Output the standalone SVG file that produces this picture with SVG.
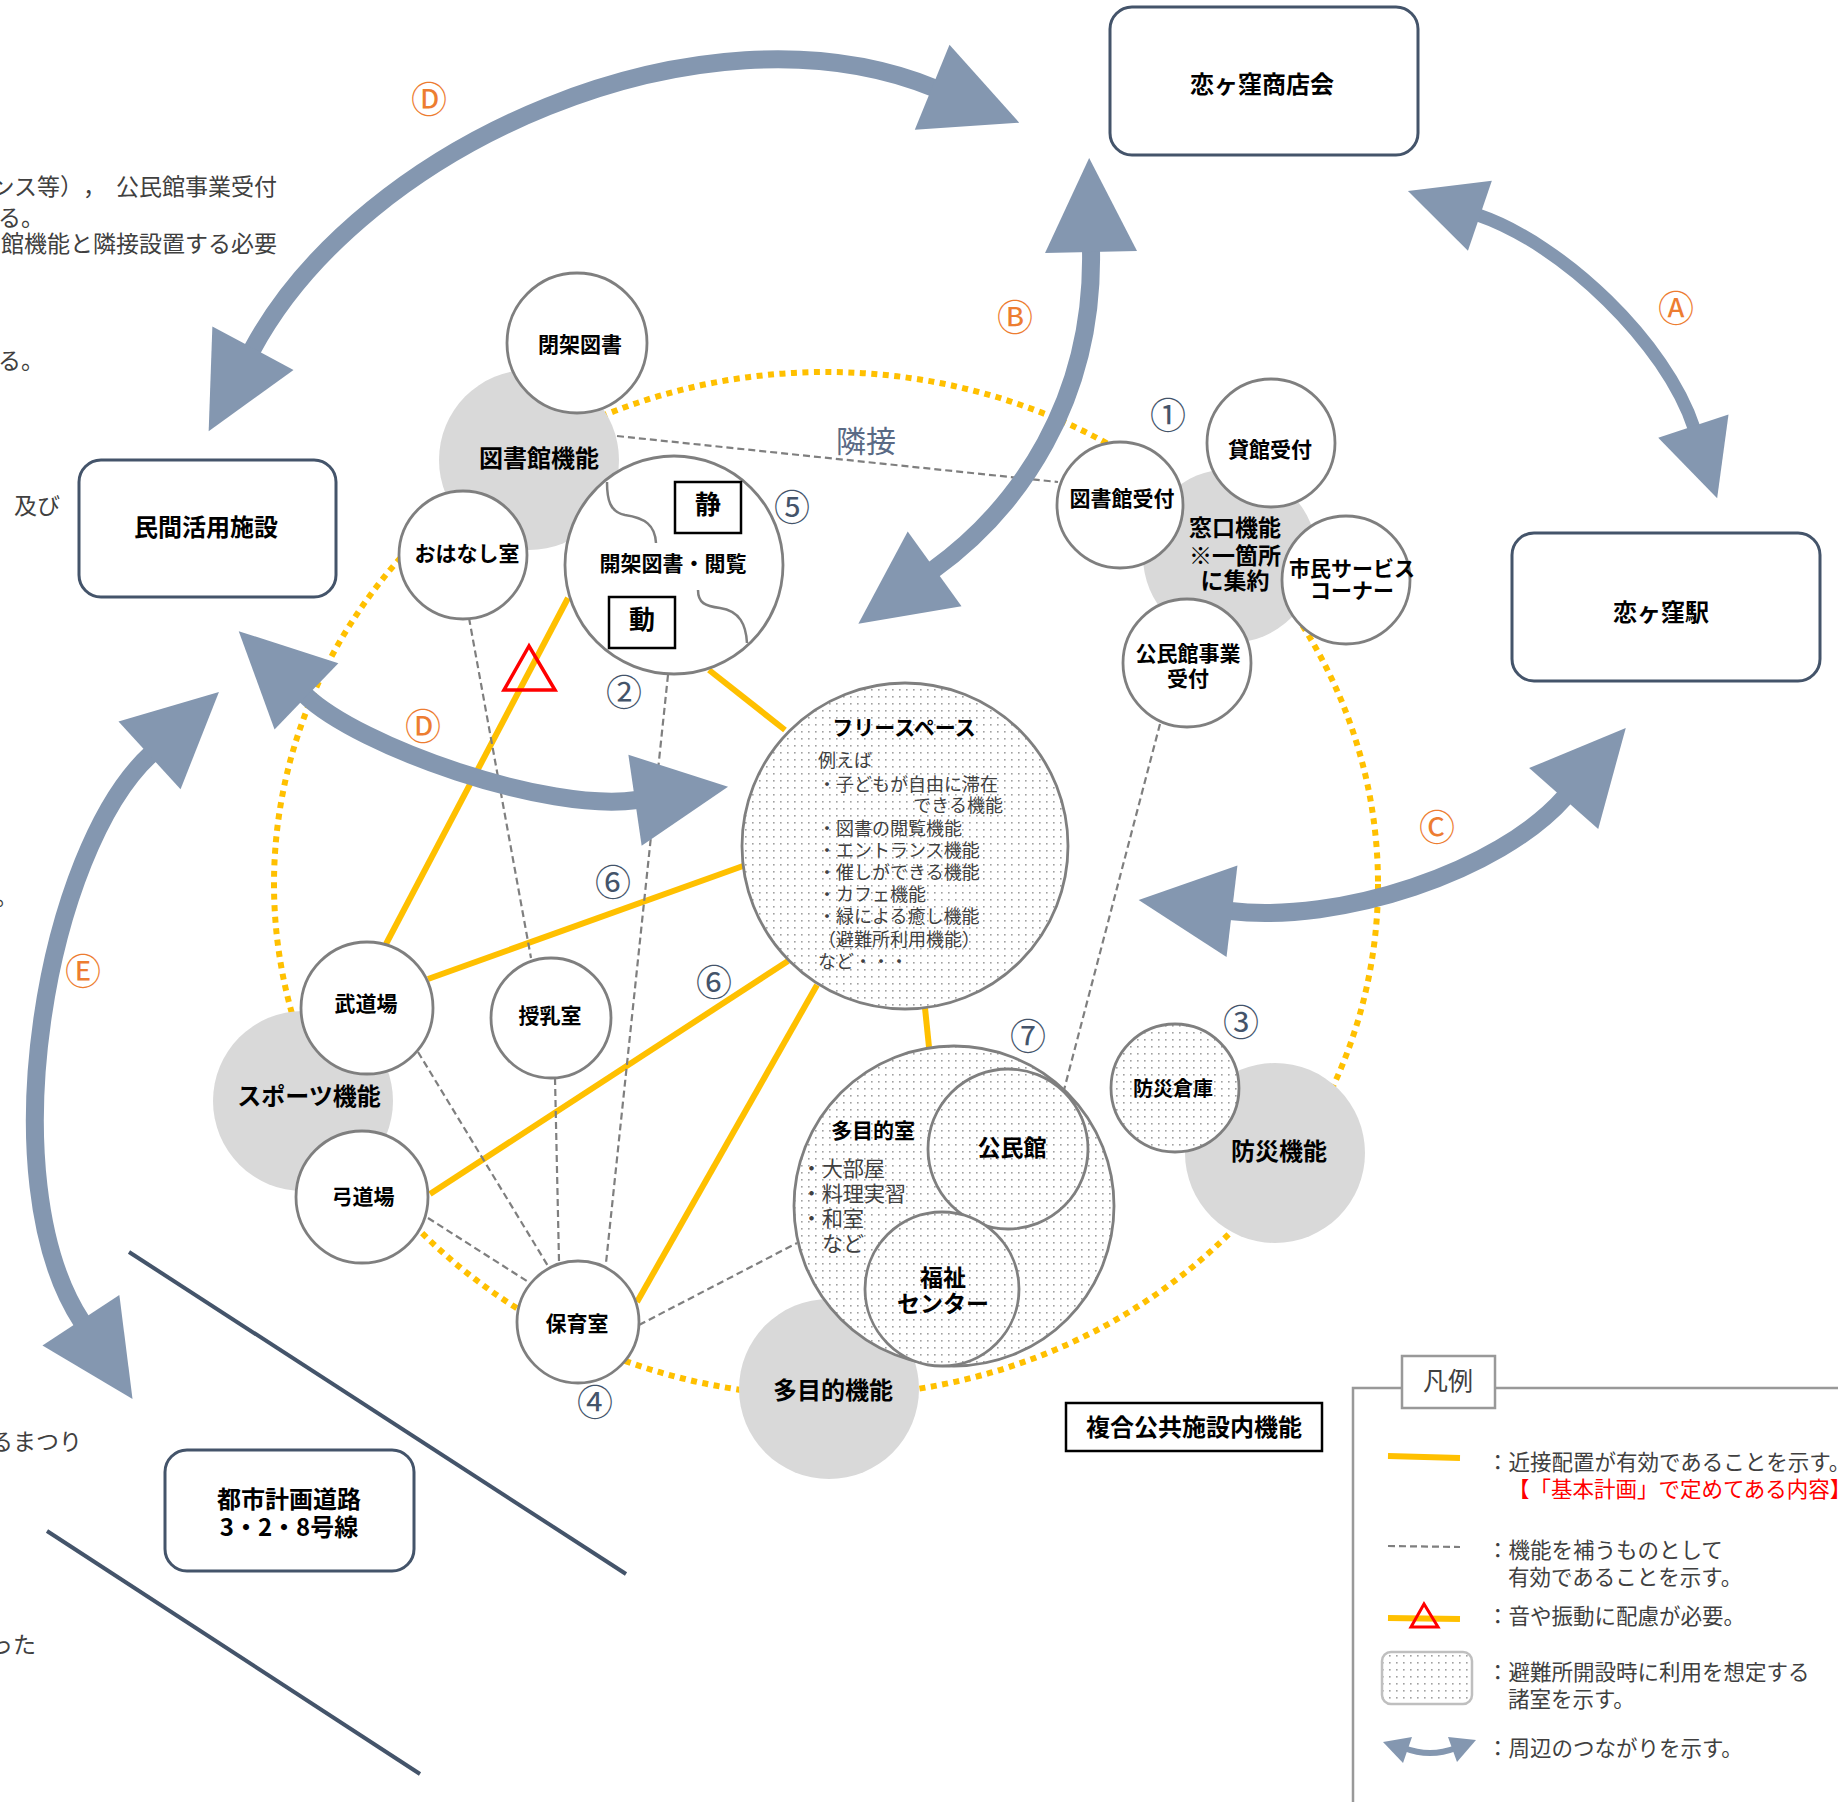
<svg xmlns="http://www.w3.org/2000/svg" width="1838" height="1802" viewBox="0 0 1838 1802">
<style>
text { font-family: 'Noto Sans CJK JP', 'Noto Sans CJK SC', sans-serif; text-spacing-trim: space-all; }
.b { font-weight: 700; fill: #000; text-anchor: middle; }
.f21 { font-size: 21px; }
.f23 { font-size: 23px; }
.f24 { font-size: 24px; }
.desc { font-size: 18px; fill: #404040; }
.desc2 { font-size: 21px; fill: #404040; }
.body { font-size: 23px; fill: #404040; }
.leg { font-size: 21.5px; fill: #404040; }
.num { font-size: 36px; fill: #44546A; text-anchor: middle; }
.let { font-size: 36px; fill: #ED7D31; text-anchor: middle; }
.grp { fill: #D9D9D9; stroke: none; }
.node { fill: #fff; stroke: #7F7F7F; stroke-width: 2.8; }
.dot { fill: url(#dots); stroke: #7F7F7F; stroke-width: 2.8; }
.box { fill: #fff; stroke: #44546A; stroke-width: 3; }
.yl { stroke: #FFC000; stroke-width: 6; fill: none; }
.dl { stroke: #7F7F7F; stroke-width: 2.2; stroke-dasharray: 7 4; fill: none; }
.arr { stroke: #8497B0; stroke-width: 18; fill: none; marker-start: url(#ah); marker-end: url(#ah); }
.arrs { stroke: #8497B0; stroke-width: 13; fill: none; marker-start: url(#ahs); marker-end: url(#ahs); }
.road { stroke: #44546A; stroke-width: 4; }
</style>
<defs>
<pattern id="dots" width="7" height="7" patternUnits="userSpaceOnUse">
<rect width="7" height="7" fill="#fff"/>
<rect x="3" y="3" width="1.6" height="1.6" fill="#A0A0A0"/>
</pattern>
<marker id="ah" markerUnits="userSpaceOnUse" markerWidth="100" markerHeight="100" refX="0" refY="0" orient="auto-start-reverse" overflow="visible">
<path d="M-2,-46 L92,0 L-2,46 Z" fill="#8497B0"/>
</marker>
<marker id="ahs" markerUnits="userSpaceOnUse" markerWidth="80" markerHeight="80" refX="0" refY="0" orient="auto-start-reverse" overflow="visible">
<path d="M-2,-37 L74,0 L-2,37 Z" fill="#8497B0"/>
</marker>
</defs>

<rect width="1838" height="1802" fill="#fff"/>

<!-- cut-off body text on the left -->
<g id="bodytext">
<text class="body" x="106" y="195" text-anchor="end">ンス等），</text>
<text class="body" x="277" y="195" text-anchor="end">公民館事業受付</text>
<text class="body" x="-2" y="226">る。</text>
<text class="body" x="277" y="252" text-anchor="end">館機能と隣接設置する必要</text>
<text class="body" x="-2" y="369">る。</text>
<text class="body" x="14" y="514">及び</text>
<text class="body" x="-5" y="905">。</text>
<text class="body" x="82" y="1450" text-anchor="end">るまつり</text>
<text class="body" x="36" y="1653" text-anchor="end">った</text>
</g>

<!-- facility boundary (dotted ellipse) -->
<ellipse id="boundary" cx="826" cy="884" rx="552" ry="512" fill="none" stroke="#FFC000" stroke-width="6" stroke-dasharray="6 5.5"/>

<!-- roads -->
<g id="road">
<line class="road" x1="129" y1="1252" x2="626" y2="1574"/>
<line class="road" x1="47" y1="1531" x2="420" y2="1774"/>
</g>

<!-- connectors -->
<g id="connectors">
<line class="yl" x1="568" y1="598" x2="386" y2="944"/>
<line class="yl" x1="709" y1="670" x2="785" y2="730"/>
<line class="yl" x1="428" y1="979" x2="743" y2="866"/>
<line class="yl" x1="430" y1="1194" x2="788" y2="961"/>
<line class="yl" x1="637" y1="1302" x2="817" y2="985"/>
<line class="yl" x1="925" y1="1008" x2="929" y2="1047"/>
<line class="dl" x1="617" y1="436" x2="1058" y2="482"/>
<line class="dl" x1="469" y1="618" x2="531" y2="958"/>
<line class="dl" x1="668" y1="675" x2="606" y2="1263"/>
<line class="dl" x1="418" y1="1052" x2="548" y2="1266"/>
<line class="dl" x1="555" y1="1078" x2="559" y2="1261"/>
<line class="dl" x1="428" y1="1218" x2="530" y2="1283"/>
<line class="dl" x1="639" y1="1325" x2="797" y2="1243"/>
<line class="dl" x1="1160" y1="724" x2="1064" y2="1090"/>
<polygon points="529,646 504,690 555,690" fill="none" stroke="#FF0000" stroke-width="3.5"/>
<text x="866" y="452" font-size="30" fill="#5A6A85" text-anchor="middle">隣接</text>
</g>

<!-- function groups -->
<g id="grp-library"><circle class="grp" cx="529" cy="460" r="90"/><text class="b f24" x="539" y="467">図書館機能</text></g>
<g id="grp-window"><circle class="grp" cx="1230" cy="556" r="87"/></g>
<g id="grp-sports"><circle class="grp" cx="303" cy="1101" r="90"/><text class="b f24" x="309" y="1105">スポーツ機能</text></g>
<g id="grp-disaster"><circle class="grp" cx="1275" cy="1153" r="90"/><text class="b f24" x="1279" y="1160">防災機能</text></g>
<g id="grp-multi"><circle class="grp" cx="829" cy="1389" r="90"/><text class="b f24" x="833" y="1399">多目的機能</text></g>

<!-- nodes -->
<g id="n-closed"><circle class="node" cx="577" cy="343" r="70"/><text class="b f21" x="580" y="352">閉架図書</text></g>
<g id="n-ohanashi"><circle class="node" cx="463" cy="555" r="64"/><text class="b f21" x="467" y="561">おはなし室</text></g>
<g id="n-open">
<circle class="node" cx="674" cy="565" r="109"/>
<path d="M607,482 C607,500 610,512 625,515 C645,518 655,525 656,543" fill="none" stroke="#7F7F7F" stroke-width="2.5"/>
<path d="M698,590 C698,603 705,606 720,608 C740,611 746,625 747,643" fill="none" stroke="#7F7F7F" stroke-width="2.5"/>
<text class="b f21" x="673" y="571">開架図書・閲覧</text>
<rect x="675" y="482" width="66" height="51" fill="#fff" stroke="#000" stroke-width="2.5"/>
<text class="b" x="708" y="514" font-size="26">静</text>
<rect x="609" y="597" width="66" height="51" fill="#fff" stroke="#000" stroke-width="2.5"/>
<text class="b" x="642" y="629" font-size="26">動</text>
</g>
<g id="n-window-text">
<text class="b f23" x="1235" y="536">窓口機能</text>
<text class="b f23" x="1235" y="564">※一箇所</text>
<text class="b f23" x="1235" y="589">に集約</text>
</g>
<g id="n-libdesk"><circle class="node" cx="1120" cy="505" r="63"/><text class="b f21" x="1122" y="506">図書館受付</text></g>
<g id="n-rental"><circle class="node" cx="1271" cy="443" r="64"/><text class="b f21" x="1270" y="457">貸館受付</text></g>
<g id="n-citizen"><circle class="node" cx="1346" cy="580" r="64"/><text class="b f21" x="1352" y="576">市民サービス</text><text class="b f21" x="1352" y="598">コーナー</text></g>
<g id="n-kominkan-desk"><circle class="node" cx="1187" cy="663" r="64"/><text class="b f21" x="1188" y="661">公民館事業</text><text class="b f21" x="1188" y="686">受付</text></g>

<g id="n-free">
<circle class="dot" cx="905" cy="846" r="163"/>
<text class="b f21" x="904" y="735">フリースペース</text>
<text class="desc" x="818" y="767">例えば</text>
<text class="desc" x="818" y="791">・子どもが自由に滞在</text>
<text class="desc" x="1003" y="812" text-anchor="end">できる機能</text>
<text class="desc" x="818" y="835">・図書の閲覧機能</text>
<text class="desc" x="818" y="857">・エントランス機能</text>
<text class="desc" x="818" y="879">・催しができる機能</text>
<text class="desc" x="818" y="901">・カフェ機能</text>
<text class="desc" x="818" y="923">・緑による癒し機能</text>
<text class="desc" x="818" y="946">（避難所利用機能）</text>
<text class="desc" x="818" y="968">など・・・</text>
</g>

<g id="n-budo"><circle class="node" cx="367" cy="1008" r="66"/><text class="b f21" x="366" y="1011">武道場</text></g>
<g id="n-nursing"><circle class="node" cx="551" cy="1018" r="60"/><text class="b f21" x="550" y="1023">授乳室</text></g>
<g id="n-kyudo"><circle class="node" cx="362" cy="1197" r="66"/><text class="b f21" x="363" y="1204">弓道場</text></g>
<g id="n-nursery"><circle class="node" cx="578" cy="1322" r="61"/><text class="b f21" x="577" y="1331">保育室</text></g>

<g id="n-multi">
<circle class="dot" cx="954" cy="1206" r="160"/>
<text class="b f21" x="873" y="1138">多目的室</text>
<text class="desc2" x="801" y="1176">・大部屋</text>
<text class="desc2" x="801" y="1201">・料理実習</text>
<text class="desc2" x="801" y="1226">・和室</text>
<text class="desc2" x="822" y="1251">など</text>
</g>
<g id="n-kominkan"><circle class="dot" cx="1008" cy="1149" r="80"/><text class="b f23" x="1012" y="1156">公民館</text></g>
<g id="n-welfare"><circle class="dot" cx="942" cy="1289" r="77"/><text class="b f23" x="943" y="1286">福祉</text><text class="b f23" x="943" y="1312">センター</text></g>
<g id="n-storage"><circle class="dot" cx="1175" cy="1088" r="64"/><text class="b" x="1173" y="1096" font-size="20">防災倉庫</text></g>

<!-- outside facilities -->
<g id="b-shotenkai"><rect class="box" x="1110" y="7" width="308" height="148" rx="22"/><text class="b f24" x="1262" y="93">恋ヶ窪商店会</text></g>
<g id="b-minkan"><rect class="box" x="79" y="460" width="257" height="137" rx="22"/><text class="b f24" x="206" y="536">民間活用施設</text></g>
<g id="b-station"><rect class="box" x="1512" y="533" width="308" height="148" rx="22"/><text class="b f24" x="1661" y="621">恋ヶ窪駅</text></g>
<g id="b-road"><rect class="box" x="165" y="1450" width="249" height="121" rx="22"/><text class="b f24" x="289" y="1508">都市計画道路</text><text class="b f24" x="289" y="1536">3・2・8号線</text></g>
<g id="b-complex"><rect x="1066" y="1403" width="256" height="48" fill="#fff" stroke="#000" stroke-width="2.5"/><text class="b f24" x="1194" y="1436">複合公共施設内機能</text></g>

<!-- relation arrows -->
<g id="relations">
<path class="arr" d="M252,350 C362,144 703,-6 934,88"/>
<path class="arr" d="M1091,250 C1094,400 1019,508 933,570"/>
<path class="arrs" d="M1478,215 C1563,244 1666,343 1694,428"/>
<path class="arr" d="M1230,911 C1339,924 1499,872 1565,797"/>
<path class="arr" d="M305,695 C359,747 548,813 637,800"/>
<path class="arr" d="M151,754 C47,849 -12,1179 82,1322"/>
</g>

<!-- labels -->
<g id="labels">
<text class="let" x="429" y="113">Ⓓ</text>
<text class="let" x="1015" y="331">Ⓑ</text>
<text class="let" x="1676" y="322">Ⓐ</text>
<text class="let" x="423" y="740">Ⓓ</text>
<text class="let" x="1437" y="841">Ⓒ</text>
<text class="let" x="83" y="985">Ⓔ</text>
<text class="num" x="1168" y="429">①</text>
<text class="num" x="624" y="706">②</text>
<text class="num" x="1241" y="1036">③</text>
<text class="num" x="595" y="1416">④</text>
<text class="num" x="792" y="521">⑤</text>
<text class="num" x="613" y="896">⑥</text>
<text class="num" x="714" y="996">⑥</text>
<text class="num" x="1028" y="1050">⑦</text>
</g>

<!-- legend -->
<g id="legend">
<path d="M1353,1802 L1353,1388 L1402,1388 M1495,1388 L1838,1388" fill="none" stroke="#999" stroke-width="2.5"/>
<rect x="1402" y="1356" width="93" height="52" fill="#fff" stroke="#999" stroke-width="2.5"/>
<text x="1448" y="1390" font-size="25" fill="#404040" text-anchor="middle">凡例</text>
<line class="yl" x1="1388" y1="1456" x2="1460" y2="1458"/>
<text class="leg" x="1487" y="1470">：近接配置が有効であることを示す。</text>
<text class="leg" x="1508" y="1497" style="fill:#FF0000">【「基本計画」で定めてある内容】</text>
<line class="dl" x1="1388" y1="1546" x2="1460" y2="1547"/>
<text class="leg" x="1487" y="1558">：機能を補うものとして</text>
<text class="leg" x="1508" y="1585">有効であることを示す。</text>
<line class="yl" x1="1388" y1="1618" x2="1460" y2="1619"/>
<polygon points="1424,1604 1411,1627 1438,1627" fill="none" stroke="#FF0000" stroke-width="3"/>
<text class="leg" x="1487" y="1624">：音や振動に配慮が必要。</text>
<rect x="1382" y="1652" width="90" height="52" rx="9" fill="url(#dots)" stroke="#BFBFBF" stroke-width="2.5"/>
<text class="leg" x="1487" y="1680">：避難所開設時に利用を想定する</text>
<text class="leg" x="1508" y="1707">諸室を示す。</text>
<path d="M1404,1748 Q1430,1758 1456,1748" fill="none" stroke="#8497B0" stroke-width="6"/>
<polygon points="1383,1742 1412,1737 1403,1763" fill="#8497B0"/>
<polygon points="1448,1737 1476,1740 1457,1762" fill="#8497B0"/>
<text class="leg" x="1487" y="1756">：周辺のつながりを示す。</text>
</g>
</svg>
